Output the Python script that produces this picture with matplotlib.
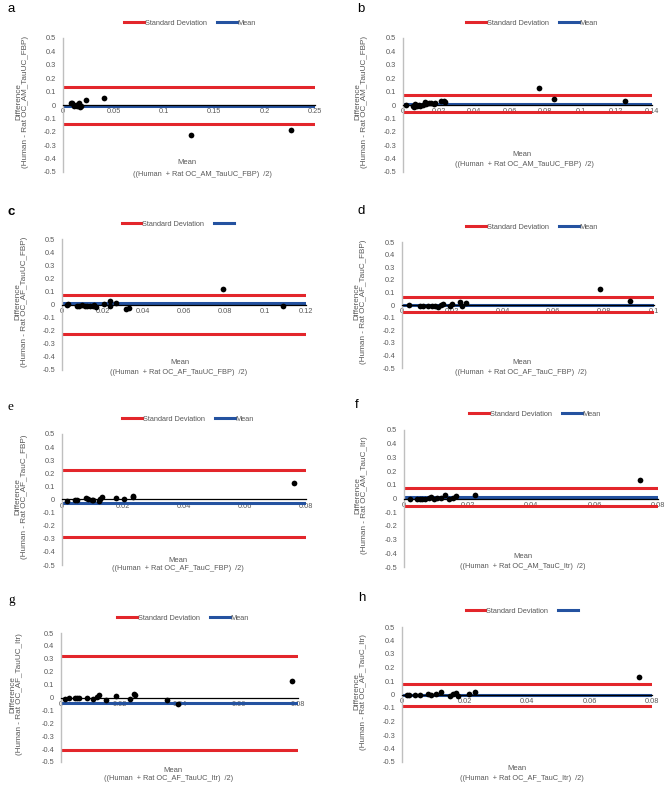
import numpy as np
import matplotlib
matplotlib.use("Agg")
import matplotlib.pyplot as plt
from matplotlib.lines import Line2D

W, H = 669, 788
plt.rcParams['font.family'] = ['Liberation Sans', 'DejaVu Sans']

# ---------------- data ----------------
panel_letters = ['a', 'b', 'c', 'd', 'e', 'f', 'g', 'h']

x_a = [0.0076, 0.0092, 0.0106, 0.0125, 0.0142, 0.0156, 0.0166, 0.0182, 0.0225, 0.041, 0.1265, 0.226]
y_a = [0.012, 0.015, -0.005, 0.002, -0.008, 0.012, -0.012, -0.008, 0.037, 0.054, -0.223, -0.19]

x_b = [0.0017, 0.0054, 0.0062, 0.0069, 0.0077, 0.0088, 0.0097, 0.011, 0.0122, 0.0129, 0.0144,
       0.0156, 0.0174, 0.0182, 0.0216, 0.0229, 0.0238, 0.0767, 0.0847, 0.1246]
y_b = [0.0, -0.007, -0.012, 0.007, -0.007, -0.002, -0.007, -0.002, 0.025, 0.005, 0.012,
       0.012, 0.01, 0.017, 0.03, 0.03, 0.025, 0.129, 0.042, 0.03]

x_c = [0.0026, 0.0031, 0.0075, 0.0085, 0.0098, 0.0113, 0.0125, 0.0138, 0.0151, 0.0159, 0.0166,
       0.0208, 0.0236, 0.0236, 0.0266, 0.0315, 0.0331, 0.079, 0.1085]
y_c = [-0.003, 0.003, -0.013, -0.01, -0.003, -0.008, -0.01, -0.01, -0.01, -0.003, -0.018,
       0.005, 0.023, -0.015, 0.01, -0.033, -0.023, 0.12, -0.01]

x_d = [0.0026, 0.007, 0.0083, 0.0103, 0.0119, 0.013, 0.0143, 0.0153, 0.0163, 0.0189, 0.0198,
       0.0229, 0.0238, 0.0255, 0.0784, 0.0903]
y_d = [0.0, -0.008, -0.008, -0.008, -0.008, -0.008, -0.013, 0.0, 0.01, -0.008, 0.005,
       0.021, -0.008, 0.016, 0.124, 0.032]

x_e = [0.0015, 0.0043, 0.005, 0.0079, 0.0086, 0.0097, 0.0103, 0.012, 0.0125, 0.013, 0.0177,
       0.0203, 0.0232, 0.0234, 0.076]
y_e = [-0.008, -0.003, -0.003, 0.01, 0.003, -0.003, -0.005, -0.015, 0.003, 0.018, 0.01,
       0.003, 0.023, 0.018, 0.125]

x_f = [0.0018, 0.0042, 0.0049, 0.0057, 0.0065, 0.0078, 0.0084, 0.0094, 0.0105, 0.0116, 0.0128,
       0.0141, 0.0154, 0.0165, 0.0223, 0.0742]
y_f = [0.0, 0.0, 0.0, 0.0, 0.0, 0.007, 0.012, 0.0, 0.007, 0.007, 0.024,
       -0.007, 0.007, 0.017, 0.029, 0.134]

x_g = [0.0015, 0.0026, 0.0048, 0.0054, 0.006, 0.0088, 0.0108, 0.0121, 0.0128, 0.0151, 0.0187,
       0.0232, 0.0245, 0.0251, 0.0357, 0.0395, 0.078]
y_g = [-0.008, 0.0, -0.003, -0.003, -0.003, 0.0, -0.008, 0.005, 0.018, -0.016, 0.013,
       -0.008, 0.026, 0.023, -0.021, -0.052, 0.127]

x_h = [0.0015, 0.0021, 0.0041, 0.0057, 0.0083, 0.0094, 0.011, 0.0126, 0.0153, 0.0163, 0.0172,
       0.0179, 0.0214, 0.0235, 0.0758]
y_h = [-0.003, 0.0, 0.0, -0.005, 0.005, 0.0, 0.007, 0.017, -0.012, 0.005, 0.012,
       -0.012, 0.005, 0.017, 0.128]

sd_upper = [0.131, 0.074, 0.071, 0.066, 0.228, 0.073, 0.325, 0.079]
sd_lower = [-0.141, -0.054, -0.224, -0.053, -0.284, -0.056, -0.41, -0.086]
mean_diff = [-0.004, 0.010, 0.008, 0.003, -0.028, 0.010, -0.042, -0.002]

x_max = [0.25, 0.14, 0.12, 0.10, 0.08, 0.08, 0.08, 0.08]
x_step = [0.05, 0.02, 0.02, 0.02, 0.02, 0.02, 0.02, 0.02]

mean_legend_labels = ['Mean', 'Mean', '', 'Mean', 'Mean', 'Mean', 'Mean', '']

y_label_second = ['(Human - Rat OC_AM_TauUC_FBP)', '(Human - Rat OC_AM_TauUC_FBP)',
                  '(Human - Rat OC_AF_TauUC_FBP)', '(Human - Rat OC_AF_TauC_FBP)',
                  '(Human - Rat OC_AF_TauC_FBP)', '(Human - Rat OC_AM_TauC_Itr)',
                  '(Human - Rat OC_AF_TauUC_Itr)', '(Human - Rat OC_AF_TauC_Itr)']
x_label_second = ['((Human  + Rat OC_AM_TauUC_FBP)  /2)', '((Human  + Rat OC_AM_TauUC_FBP)  /2)',
                  '((Human  + Rat OC_AF_TauUC_FBP)  /2)', '((Human  + Rat OC_AF_TauC_FBP)  /2)',
                  '((Human  + Rat OC_AF_TauC_FBP)  /2)', '((Human  + Rat OC_AM_TauC_Itr)  /2)',
                  '((Human  + Rat OC_AF_TauUC_Itr)  /2)', '((Human  + Rat OC_AF_TauC_Itr)  /2)']

xs = [x_a, x_b, x_c, x_d, x_e, x_f, x_g, x_h]
ys = [y_a, y_b, y_c, y_d, y_e, y_f, y_g, y_h]

# ---------------- layout (pixels) ----------------
# left, right, top, bottom of plot area
boxes = [(63, 315, 38, 172), (403, 652, 38, 172),
         (62, 306, 239, 370), (402, 654, 242, 368),
         (62, 306, 434, 565), (404, 658, 430, 567),
         (61, 298, 633, 762), (402, 652, 627, 762)]
letter_pos = [(8, 9), (357, 9), (8, 212), (357, 211), (7, 407), (355, 405), (8, 600), (358, 598)]
letter_style = [dict(), dict(), dict(fontweight='bold'), dict(), dict(family=['Liberation Serif']),
                dict(), dict(family=['Liberation Serif']), dict()]
ylab_x = [22, 361, 21, 360, 21, 361, 16, 360]
xlab1_pos = [(187, 163), (522, 154), (180, 362), (522, 362), (178, 560), (523, 557), (173, 770), (517, 768)]
xlab2_pos = [(202, 174), (524, 165), (179, 372), (521, 372), (178, 569), (523, 567), (169, 778), (522, 778)]
legend_pos = [(190, 23), (532, 23), (178, 224), (532, 227), (188, 419), (535, 414), (183, 618), (522, 611)]

RED = '#e3262b'
BLUE = '#2452a0'
GRAY_TXT = '#595959'
FS = 5.3


def fx(px):
    return px / W


def fy(py):
    return 1 - py / H


def fmt(v):
    if abs(v) < 1e-9:
        return '0'
    s = f"{v:.2f}".rstrip('0').rstrip('.')
    return s


fig = plt.figure(figsize=(W / 100, H / 100), dpi=100)

for i in range(8):
    l, r, t, b = boxes[i]
    ax = fig.add_axes([fx(l), fy(b), (r - l) / W, (b - t) / H])
    ax.set_xlim(0, x_max[i])
    ax.set_ylim(-0.5, 0.5)

    ax.axhline(sd_upper[i], color=RED, lw=2.2, zorder=2)
    ax.axhline(sd_lower[i], color=RED, lw=2.2, zorder=2)
    ax.axhline(mean_diff[i], color=BLUE, lw=2.2, zorder=2)
    ax.scatter(xs[i], ys[i], s=17, color='black', zorder=4, linewidths=0)

    for s in ['top', 'right']:
        ax.spines[s].set_visible(False)
    ax.spines['bottom'].set_position(('data', 0))
    ax.spines['bottom'].set_color('black')
    ax.spines['bottom'].set_linewidth(0.9)
    ax.spines['bottom'].set_zorder(3)
    ax.spines['left'].set_color('#bfbfbf')
    ax.spines['left'].set_linewidth(1.0)

    yt = np.round(np.arange(-0.5, 0.501, 0.1), 1)
    ax.set_yticks(yt)
    ax.set_yticklabels([fmt(v) for v in yt])
    n = int(round(x_max[i] / x_step[i]))
    xt = np.round(np.arange(n + 1) * x_step[i], 3)
    ax.set_xticks(xt)
    ax.set_xticklabels([fmt(v) for v in xt])
    ax.tick_params(axis='both', length=0, labelsize=FS, colors=GRAY_TXT)
    ax.tick_params(axis='y', pad=5)
    ax.tick_params(axis='x', pad=2.5)

    handles = [Line2D([], [], color=RED, lw=2.2), Line2D([], [], color=BLUE, lw=2.2)]
    labels = ['Standard Deviation', mean_legend_labels[i]]
    lx, ly = legend_pos[i]
    fig.legend(handles, labels, loc='center', bbox_to_anchor=(fx(lx), fy(ly)),
               bbox_transform=fig.transFigure, ncol=2, frameon=False, fontsize=FS,
               handlelength=2.7, handletextpad=0.05, columnspacing=1.4,
               labelcolor=GRAY_TXT, borderpad=0, borderaxespad=0)

    px_, py_ = letter_pos[i]
    fig.text(fx(px_), fy(py_), panel_letters[i], fontsize=9.5, ha='left', va='center',
             color='black', **letter_style[i])

    yy = (t + b) / 2 - 3
    fig.text(fx(ylab_x[i]), fy(yy), 'Difference\n' + y_label_second[i], rotation=90,
             ha='center', va='center', multialignment='center', fontsize=5.9,
             color=GRAY_TXT, linespacing=1.0)

    x1, y1 = xlab1_pos[i]
    fig.text(fx(x1), fy(y1), 'Mean', ha='center', va='center', fontsize=FS + 0.2, color=GRAY_TXT)
    x2, y2 = xlab2_pos[i]
    fig.text(fx(x2), fy(y2), x_label_second[i], ha='center', va='center', fontsize=FS,
             color=GRAY_TXT)

fig.savefig('out.png', dpi=100, facecolor='white')
